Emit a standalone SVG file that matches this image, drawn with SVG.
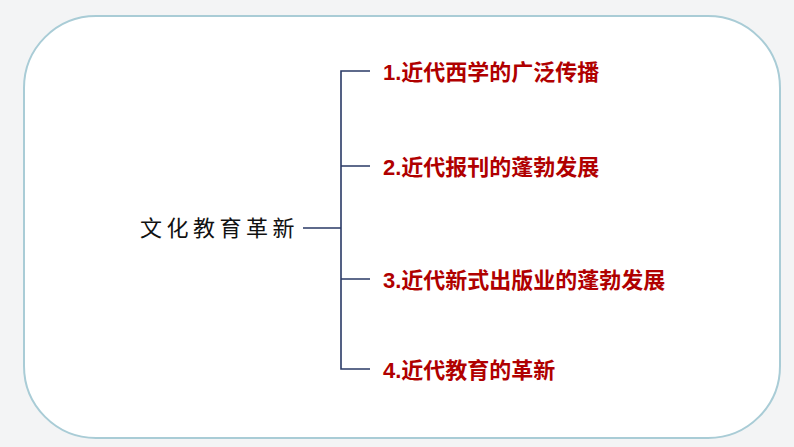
<svg xmlns="http://www.w3.org/2000/svg" width="794" height="447" viewBox="0 0 794 447">
<style>
.item{font-family:"Liberation Sans","Noto Sans CJK SC",sans-serif;font-size:22px;font-weight:bold;fill:#B00000}
.ln{stroke:#2a3a66;stroke-width:1.6;fill:none}
</style>
<rect width="794" height="447" fill="#f3f4f5"/>
<rect x="24" y="16" width="756" height="422" rx="72" fill="#fff" stroke="#a9ccd6" stroke-width="2"/>
<g id="root"><text x="140" y="236" font-family="Noto Sans CJK SC,sans-serif" font-size="22" letter-spacing="4.5" fill="#111">文化教育革新</text></g>
<g id="connectors">
<path class="ln" d="M303 228H341M370 71H341V369H370M341 166H370M341 279H370"/>
</g>
<g id="n1"><text class="item" x="383" y="80">1.近代西学的广泛传播</text></g>
<g id="n2"><text class="item" x="383" y="175">2.近代报刊的蓬勃发展</text></g>
<g id="n3"><text class="item" x="383" y="288">3.近代新式出版业的蓬勃发展</text></g>
<g id="n4"><text class="item" x="383" y="378">4.近代教育的革新</text></g>
</svg>
